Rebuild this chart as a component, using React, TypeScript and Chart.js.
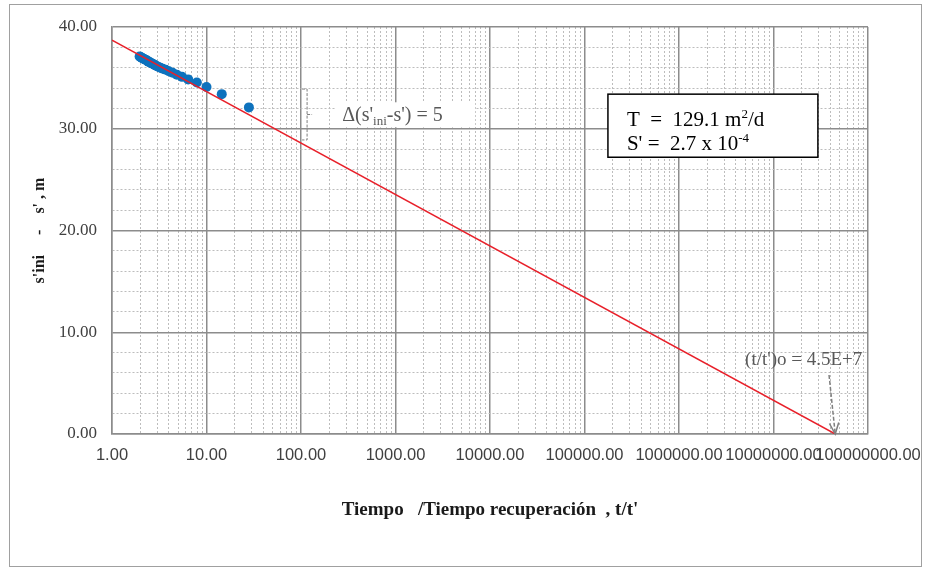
import React, { useEffect, useRef } from "react";
import { Chart, registerables } from "chart.js";

Chart.register(...registerables);

// ---- data ----
const recoveryRatio = [28.1, 14.5, 10.0, 7.9, 6.4, 5.5, 4.86, 4.38, 4.0, 3.7, 3.45, 3.25, 3.08, 2.93, 2.8, 2.69, 2.59, 2.5, 2.42, 2.35, 2.29, 2.23, 2.18, 2.13, 2.08, 2.04, 2.0, 1.96];
const residualDrawdown = [32.1, 33.4, 34.1, 34.55, 34.85, 35.1, 35.3, 35.5, 35.65, 35.8, 35.9, 36.0, 36.1, 36.2, 36.3, 36.4, 36.45, 36.55, 36.6, 36.7, 36.75, 36.8, 36.85, 36.9, 36.95, 37.0, 37.05, 37.1];
const fitLineRatio = [1, 45000000];
const fitLineDrawdown = [38.7, 0];

const xDecades = [1, 10, 100, 1000, 10000, 100000, 1000000, 10000000, 100000000];
const xMinorSteps = [2, 3, 4, 5, 6, 7, 8, 9];
const yMajorTicks = [0, 10, 20, 30, 40];
const yMinorTicks = [2, 4, 6, 8, 12, 14, 16, 18, 22, 24, 26, 28, 32, 34, 36, 38];

const xTitle = "Tiempo   /Tiempo recuperación  , t/t'";
const yTitle = "s'ini     -    s' , m";

// annotation anchors (data coordinates)
const bracketAt = { x: 116, yTop: 33.9, yBottom: 28.9 };
const deltaLabelAt = { x: 230, y: 32.6 };
const paramBoxAt = { x: 177000, y: 33.4, x2: 29500000, y2: 27.2 };
const originLabelAt = { x: 5000000, y: 6.8 };
const originArrowFrom = { x: 38700000, y: 5.8 };
const originArrowTo = { x: 45000000, y: 0 };

const xTickValues: number[] = [];
xDecades.forEach((d, i) => {
  xTickValues.push(d);
  if (i < xDecades.length - 1) xMinorSteps.forEach((m) => xTickValues.push(d * m));
});
const yTickValues = [...yMajorTicks, ...yMinorTicks].sort((a, b) => a - b);

const isDecade = (v: number) => {
  const l = Math.log10(v);
  return Math.abs(l - Math.round(l)) < 1e-9;
};

const SERIF = "'Liberation Serif', 'Times New Roman', serif";
const SANS = "'Liberation Sans', Arial, sans-serif";

type Part = { t: string; size: number; dy?: number };
function drawRich(ctx: CanvasRenderingContext2D, parts: Part[], x: number, y: number, color: string) {
  let cx = x;
  ctx.fillStyle = color;
  ctx.textBaseline = "alphabetic";
  ctx.textAlign = "left";
  for (const p of parts) {
    ctx.font = `${p.size}px ${SERIF}`;
    ctx.fillText(p.t, cx, y + (p.dy || 0));
    cx += ctx.measureText(p.t).width;
  }
  return cx - x;
}

const annotations = {
  id: "annotations",
  beforeDraw(chart: any) {
    const { ctx } = chart;
    ctx.save();
    ctx.fillStyle = "#ffffff";
    ctx.fillRect(0, 0, chart.width, chart.height);
    ctx.strokeStyle = "#a0a0a0";
    ctx.lineWidth = 1;
    ctx.strokeRect(9.5, 4.5, 912, 562);
    ctx.restore();
  },
  afterDatasetsDraw(chart: any) {
    const { ctx, scales } = chart;
    const px = (v: number) => scales.x.getPixelForValue(v);
    const py = (v: number) => scales.y.getPixelForValue(v);
    ctx.save();

    // bracket
    const bx = px(bracketAt.x);
    const bt = py(bracketAt.yTop);
    const bb = py(bracketAt.yBottom);
    ctx.strokeStyle = "#7f7f7f";
    ctx.lineWidth = 1;
    ctx.setLineDash([3, 1.5]);
    ctx.beginPath();
    ctx.moveTo(bx - 5, bt);
    ctx.lineTo(bx, bt);
    ctx.lineTo(bx, bb);
    ctx.lineTo(bx - 5, bb);
    ctx.moveTo(bx, (bt + bb) / 2);
    ctx.lineTo(bx + 5, (bt + bb) / 2);
    ctx.stroke();
    ctx.setLineDash([]);

    // delta label
    const dx = px(deltaLabelAt.x);
    const dy = py(deltaLabelAt.y);
    ctx.fillStyle = "#ffffff";
    ctx.fillRect(dx, dy, 140, 25);
    drawRich(
      ctx,
      [
        { t: "Δ(s'", size: 20 },
        { t: "ini", size: 13, dy: 4 },
        { t: "-s') = 5", size: 20 },
      ],
      dx + 7,
      dy + 19,
      "#595959"
    );

    // parameter box
    const x1 = px(paramBoxAt.x);
    const y1 = py(paramBoxAt.y);
    const x2 = px(paramBoxAt.x2);
    const y2 = py(paramBoxAt.y2);
    ctx.fillStyle = "#ffffff";
    ctx.fillRect(x1, y1, x2 - x1, y2 - y1);
    ctx.strokeStyle = "#000000";
    ctx.lineWidth = 1.5;
    ctx.strokeRect(x1, y1, x2 - x1, y2 - y1);
    drawRich(
      ctx,
      [
        { t: "T  =  129.1 m", size: 21 },
        { t: "2", size: 13, dy: -8 },
        { t: "/d", size: 21 },
      ],
      x1 + 19,
      y1 + 32,
      "#000000"
    );
    drawRich(
      ctx,
      [
        { t: "S' =  2.7 x 10", size: 21 },
        { t: "-4", size: 13, dy: -8 },
      ],
      x1 + 19,
      y1 + 56,
      "#000000"
    );

    // origin label + arrow
    drawRich(ctx, [{ t: "(t/t')o = 4.5E+7", size: 19 }], px(originLabelAt.x), py(originLabelAt.y), "#595959");
    const ax1 = px(originArrowFrom.x);
    const ay1 = py(originArrowFrom.y);
    const ax2 = px(originArrowTo.x);
    const ay2 = py(originArrowTo.y);
    ctx.strokeStyle = "#7f7f7f";
    ctx.lineWidth = 1.5;
    ctx.setLineDash([4, 2]);
    ctx.beginPath();
    ctx.moveTo(ax1, ay1);
    ctx.lineTo(ax2, ay2);
    ctx.stroke();
    ctx.setLineDash([]);
    const ang = Math.atan2(ay2 - ay1, ax2 - ax1);
    const hl = 12;
    ctx.beginPath();
    ctx.moveTo(ax2 - hl * Math.cos(ang - 0.4), ay2 - hl * Math.sin(ang - 0.4));
    ctx.lineTo(ax2, ay2);
    ctx.lineTo(ax2 - hl * Math.cos(ang + 0.4), ay2 - hl * Math.sin(ang + 0.4));
    ctx.stroke();

    ctx.restore();
  },
};

export default function App() {
  const canvasRef = useRef<HTMLCanvasElement | null>(null);

  useEffect(() => {
    if (!canvasRef.current) return;
    const majorX = (ctx: any) => ctx.tick && isDecade(ctx.tick.value);
    const majorY = (ctx: any) => ctx.tick && ctx.tick.value % 10 === 0;
    const chart = new Chart(canvasRef.current, {
      type: "scatter",
      data: {
        datasets: [
          {
            label: "ajuste",
            data: fitLineRatio.map((x, i) => ({ x, y: fitLineDrawdown[i] })),
            showLine: true,
            borderColor: "#e8202a",
            borderWidth: 1.5,
            pointRadius: 0,
            fill: false,
          },
          {
            label: "datos",
            data: recoveryRatio.map((x, i) => ({ x, y: residualDrawdown[i] })),
            backgroundColor: "#0e72bd",
            borderWidth: 0,
            pointRadius: 5,
          },
        ],
      },
      options: {
        responsive: false,
        animation: false,
        devicePixelRatio: 1,
        layout: { padding: { top: 27, right: 61, bottom: 0, left: 0 } },
        plugins: { legend: { display: false }, tooltip: { enabled: false } },
        scales: {
          x: {
            type: "logarithmic",
            min: 1,
            max: 100000000,
            afterBuildTicks: (s: any) => {
              s.ticks = xTickValues.map((v) => ({ value: v }));
            },
            afterFit: (s: any) => {
              s.height = 134;
              s.paddingLeft = 0;
              s.paddingRight = 0;
            },
            ticks: {
              autoSkip: false,
              maxRotation: 0,
              minRotation: 0,
              padding: 12,
              color: "#404040",
              font: { family: SANS, size: 16.5 },
              callback: (v: any) => (isDecade(Number(v)) ? Number(v).toFixed(2) : ""),
            },
            grid: {
              drawTicks: false,
              color: (ctx: any) => (majorX(ctx) ? "#8c8c8c" : "#bdbdbd"),
              lineWidth: (ctx: any) => (majorX(ctx) ? 1.5 : 1),
            },
            border: {
              display: true,
              color: "#8c8c8c",
              width: 1.5,
              dash: (ctx: any) => (ctx.tick && !isDecade(ctx.tick.value) ? [2, 2] : []),
            },
            title: {
              display: true,
              text: xTitle,
              color: "#1a1a1a",
              font: { family: SERIF, size: 19, weight: "bold" },
              padding: { top: 0, bottom: 47 },
            },
          },
          y: {
            type: "linear",
            min: 0,
            max: 40,
            afterBuildTicks: (s: any) => {
              s.ticks = yTickValues.map((v) => ({ value: v }));
            },
            afterFit: (s: any) => {
              s.width = 112;
            },
            ticks: {
              autoSkip: false,
              padding: 15,
              color: "#404040",
              font: { family: SERIF, size: 17 },
              callback: (v: any) => (Number(v) % 10 === 0 ? Number(v).toFixed(2) : ""),
            },
            grid: {
              drawTicks: false,
              color: (ctx: any) => (majorY(ctx) ? "#8c8c8c" : "#bdbdbd"),
              lineWidth: (ctx: any) => (majorY(ctx) ? 1.5 : 1),
            },
            border: {
              display: true,
              color: "#8c8c8c",
              width: 1.5,
              dash: (ctx: any) => (ctx.tick && ctx.tick.value % 10 !== 0 ? [2, 2] : []),
            },
            title: {
              display: true,
              text: yTitle,
              color: "#1a1a1a",
              font: { family: SERIF, size: 16, weight: "bold" },
              padding: { top: 30, bottom: 0 },
            },
          },
        },
      } as any,
      plugins: [annotations],
    });
    return () => chart.destroy();
  }, []);

  return (
    <div style={{ position: "fixed", left: 0, top: 0, width: 929, height: 568, background: "#fff" }}>
      <canvas ref={canvasRef} width={929} height={568} style={{ display: "block" }} />
    </div>
  );
}
